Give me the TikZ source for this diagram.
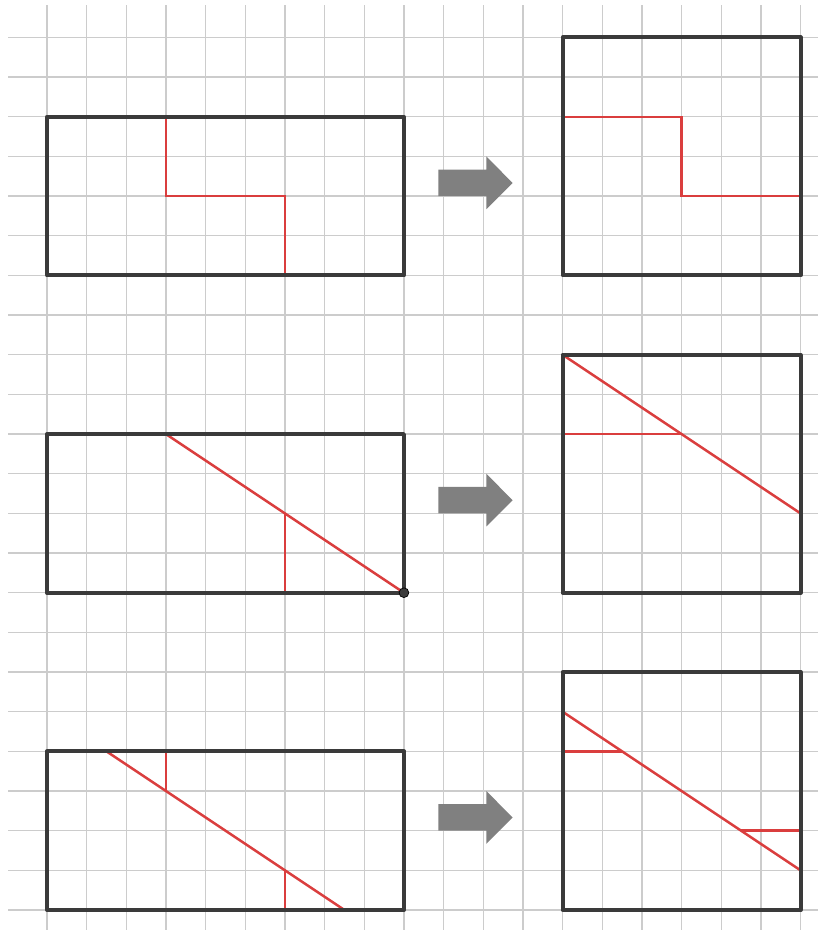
\documentclass[tikz,border=0pt]{standalone}
\definecolor{gridgray}{RGB}{204,204,204}
\definecolor{rectgray}{RGB}{58,58,58}
\definecolor{cutred}{RGB}{218,62,62}
\definecolor{arrowgray}{RGB}{128,128,128}
\tikzset{
  rect/.style={rectgray, line width=2.9pt, line join=round},
  cut/.style={cutred, line width=1.8pt},
  gridline/.style={gridgray, line width=1pt},
  corner/.style={circle, fill=rectgray, draw=black, line width=0.5pt, inner sep=0pt, minimum size=7pt},
}
\begin{document}
\begin{tikzpicture}
    \useasboundingbox (-1.185,-0.504) rectangle (19.44,22.945);

    % Grid
    \foreach \j in {0,...,22} \draw[gridline] (-0.98,\j) -- (19.44,\j);
    \foreach \i in {0,...,19} \draw[gridline] (\i,-0.5) -- (\i,22.82);

    % Top row: staircase cut
    \draw[cut] (3,20) -- (3,18) -- (6,18) -- (6,16);
    \draw[cut] (13,20) -- (16,20) -- (16,18) -- (19,18);
    \draw[rect] (0,16) rectangle (9,20);
    \draw[rect] (13,16) rectangle (19,22);

    % Middle row: diagonal cut
    \draw[cut] (3,12) -- (9,8);
    \draw[cut] (6,10) -- (6,8);
    \draw[cut] (13,14) -- (19,10);
    \draw[cut] (13,12) -- (16,12);
    \draw[rect] (0,8) rectangle (9,12);
    \draw[rect] (13,8) rectangle (19,14);
    \node[corner] (pivot) at (9,8) {};

    % Bottom row: shifted diagonal cut
    \draw[cut] (1.5,4) -- (7.5,0);
    \draw[cut] (3,4) -- (3,3);
    \draw[cut] (6,1) -- (6,0);
    \draw[cut] (13,5) -- (19,1);
    \draw[cut] (13,4) -- (14.5,4);
    \draw[cut] (17.5,2) -- (19,2);
    \draw[rect] (0,0) rectangle (9,4);
    \draw[rect] (13,0) rectangle (19,6);

    % Arrows
    \foreach \y in {2,10,18}
        \fill[arrowgray] (9.87,\y) -- (11.08,\y) -- (11.08,\y-0.33) -- (11.74,\y+0.33)
            -- (11.08,\y+1) -- (11.08,\y+0.67) -- (9.87,\y+0.67) -- cycle;
\end{tikzpicture}
\end{document}
